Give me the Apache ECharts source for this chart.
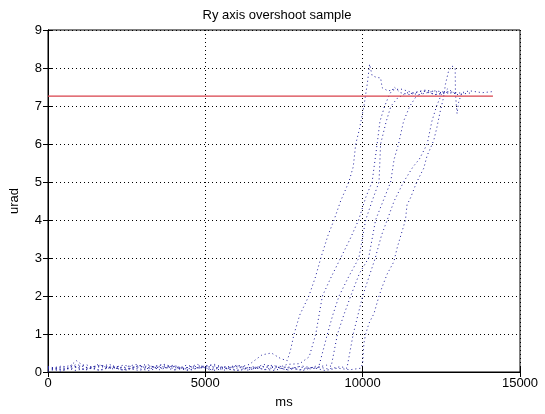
<!DOCTYPE html>
<html>
<head>
<meta charset="utf-8">
<script src="https://cdn.jsdelivr.net/npm/echarts@6/dist/echarts.min.js"></script>
<style>
  html, body { margin: 0; padding: 0; background: #fff; }
  #main { width: 545px; height: 414px; }
</style>
</head>
<body>
<div id="main"></div>
<script>
// reference level (red)
var refLevel = 7.26;
var refStart = 0;
var refEnd = 14140;

// traces: [ms, urad]
var traceA = [[0,0.05],[300,0.12],[600,0.08],[900,0.3],[1200,0.12],[1600,0.15],[2000,0.1],[2400,0.18],[2800,0.12],[3200,0.16],[3600,0.1],[4000,0.14],[4400,0.08],[4800,0.12],[5200,0.1],[5600,0.14],[6000,0.1],[6400,0.2],[6800,0.45],[7100,0.5],[7400,0.35],[7600,0.3],[7700,0.55],[7820,1.0],[8000,1.5],[8290,2.0],[8500,2.5],[8670,3.0],[8900,3.6],[9090,4.0],[9300,4.5],[9560,5.0],[9700,5.4],[9780,6.0],[9900,6.4],[10040,7.0],[10150,7.6],[10220,8.1],[10300,7.8],[10450,7.75],[10570,7.74],[10620,7.48],[10800,7.4],[11200,7.45],[11600,7.35],[12000,7.42],[12500,7.35]];
var traceB = [[0,0.1],[400,0.02],[800,0.15],[1200,0.05],[1600,0.2],[2000,0.08],[2400,0.12],[2800,0.2],[3200,0.08],[3600,0.15],[4000,0.05],[4400,0.18],[4800,0.1],[5200,0.15],[5600,0.05],[6000,0.18],[6400,0.1],[6800,0.15],[7200,0.08],[7600,0.2],[8000,0.22],[8300,0.4],[8510,1.0],[8720,2.0],[9000,2.5],[9300,3.0],[9600,3.5],[9870,4.0],[10100,4.6],[10300,5.0],[10460,6.0],[10550,6.6],[10700,7.0],[10850,7.3],[11000,7.5],[11200,7.35],[11500,7.3],[11900,7.4],[12300,7.3],[12800,7.35]];
var traceC = [[0,0.02],[350,0.1],[750,0.18],[1150,0.06],[1550,0.12],[1950,0.2],[2350,0.05],[2750,0.14],[3150,0.2],[3550,0.06],[3950,0.16],[4350,0.1],[4750,0.2],[5150,0.05],[5550,0.12],[5950,0.16],[6350,0.05],[6750,0.12],[7150,0.18],[7550,0.06],[7950,0.14],[8350,0.08],[8600,0.12],[8880,1.0],[9050,1.5],[9250,2.0],[9550,2.5],[9880,3.0],[10095,4.0],[10300,4.5],[10520,5.0],[10570,6.0],[10750,6.6],[10900,7.0],[11100,7.2],[11400,7.35],[11800,7.3],[12300,7.4],[13000,7.32]];
var traceD = [[0,0.08],[450,0.16],[850,0.04],[1250,0.1],[1650,0.18],[2050,0.12],[2450,0.04],[2850,0.16],[3250,0.1],[3650,0.2],[4050,0.06],[4450,0.12],[4850,0.16],[5250,0.04],[5650,0.1],[6050,0.16],[6450,0.06],[6850,0.2],[7250,0.12],[7650,0.05],[8050,0.16],[8450,0.1],[8850,0.18],[9000,0.15],[9200,1.0],[9400,1.5],[9620,2.0],[9900,2.6],[10190,3.0],[10410,4.0],[10650,4.5],[10890,5.0],[11000,5.6],[11140,6.0],[11300,6.6],[11500,7.0],[11700,7.25],[12000,7.4],[12300,7.3],[12700,7.38],[13200,7.33]];
var traceE = [[0,0.12],[500,0.04],[900,0.2],[1300,0.1],[1700,0.05],[2100,0.16],[2500,0.1],[2900,0.04],[3300,0.14],[3700,0.2],[4100,0.1],[4500,0.04],[4900,0.15],[5300,0.2],[5700,0.08],[6100,0.04],[6500,0.14],[6900,0.06],[7300,0.16],[7700,0.1],[8100,0.04],[8500,0.15],[8900,0.08],[9300,0.14],[9500,0.1],[9700,1.0],[9850,1.5],[10000,2.0],[10200,2.5],[10400,3.0],[10600,3.6],[10780,4.0],[11000,4.5],[11300,5.0],[11600,5.4],[11800,5.6],[12050,6.0],[12200,6.6],[12350,7.0],[12500,7.3],[12700,7.45],[13000,7.3],[13500,7.35]];
var traceF = [[0,0.15],[400,0.06],[800,0.1],[1200,0.2],[1600,0.04],[2000,0.14],[2400,0.06],[2800,0.1],[3200,0.04],[3600,0.12],[4000,0.18],[4400,0.05],[4800,0.1],[5200,0.18],[5600,0.1],[6000,0.04],[6400,0.12],[6800,0.08],[7200,0.04],[7600,0.14],[8000,0.06],[8400,0.12],[8800,0.04],[9200,0.1],[9600,0.06],[9950,0.1],[10000,0.25],[10040,0.76],[10095,1.0],[10200,1.28],[10360,1.54],[10520,2.0],[10620,2.24],[10780,2.58],[10990,2.9],[11100,3.28],[11360,4.0],[11410,4.4],[11520,4.58],[11680,4.92],[11780,5.1],[11940,5.36],[12050,5.7],[12150,5.88],[12260,6.1],[12360,6.44],[12470,6.88],[12570,7.22],[12630,7.57],[12730,7.92],[12840,8.05],[12940,8.0],[12950,7.3],[13000,6.8],[13050,7.1],[13150,7.35],[13400,7.4],[13800,7.35],[14140,7.38]];

var traces = [traceA, traceB, traceC, traceD, traceE, traceF];

var xMin = 0, xMax = 15000, xStep = 5000;
var yMin = 0, yMax = 9, yStep = 1;

var font = 'Liberation Sans, Arial, sans-serif';

var series = traces.map(function(d) {
    return {
        type: 'line',
        data: d,
        symbol: 'none',
        silent: true,
        animation: false,
        lineStyle: { color: '#1c1c9c', width: 1, type: [1, 3] }
    };
});
series.push({
    type: 'line',
    data: [[refStart, refLevel], [refEnd, refLevel]],
    symbol: 'none',
    silent: true,
    animation: false,
    lineStyle: { color: '#d9404a', width: 1.2 }
});

var option = {
    backgroundColor: '#fff',
    animation: false,
    title: {
        text: 'Ry axis overshoot sample',
        left: 272,
        textAlign: 'center',
        top: 4,
        textStyle: { fontFamily: font, fontSize: 13, fontWeight: 'normal', color: '#000' }
    },
    grid: {
        left: 46, right: 25, top: 30, bottom: 38,
        show: true, borderColor: '#000', borderWidth: 1, backgroundColor: '#fff'
    },
    xAxis: [{
        type: 'value', min: xMin, max: xMax, interval: xStep,
        name: 'ms', nameLocation: 'middle', nameGap: 24,
        nameTextStyle: { fontFamily: font, fontSize: 13, color: '#000' },
        axisLine: { show: true, lineStyle: { color: '#000' } },
        axisTick: { show: true, inside: true, length: 5, lineStyle: { color: '#000' } },
        axisLabel: { fontFamily: font, fontSize: 13, color: '#000', margin: 5,
                     formatter: function(v) { return String(v); } },
        splitLine: { show: true, lineStyle: { color: '#000', type: [1, 3], width: 1 } }
    }, {
        type: 'value', min: xMin, max: xMax, interval: xStep, position: 'top',
        axisLine: { show: true, lineStyle: { color: '#000' } },
        axisTick: { show: true, inside: true, length: 5, lineStyle: { color: '#000' } },
        axisLabel: { show: false },
        splitLine: { show: false }
    }],
    yAxis: [{
        type: 'value', min: yMin, max: yMax, interval: yStep,
        name: 'urad', nameLocation: 'middle', nameGap: 27,
        nameTextStyle: { fontFamily: font, fontSize: 13, color: '#000' },
        axisLine: { show: true, lineStyle: { color: '#000' } },
        axisTick: { show: true, inside: true, length: 5, lineStyle: { color: '#000' } },
        axisLabel: { fontFamily: font, fontSize: 13, color: '#000', margin: 6 },
        splitLine: { show: true, lineStyle: { color: '#000', type: [1, 3], width: 1 } }
    }, {
        type: 'value', min: yMin, max: yMax, interval: yStep, position: 'right',
        axisLine: { show: true, lineStyle: { color: '#000' } },
        axisTick: { show: true, inside: true, length: 5, lineStyle: { color: '#000' } },
        axisLabel: { show: false },
        splitLine: { show: false }
    }],
    series: series
};

var chart = echarts.init(document.getElementById('main'), null, { renderer: 'canvas' });
chart.setOption(option);
</script>
</body>
</html>
